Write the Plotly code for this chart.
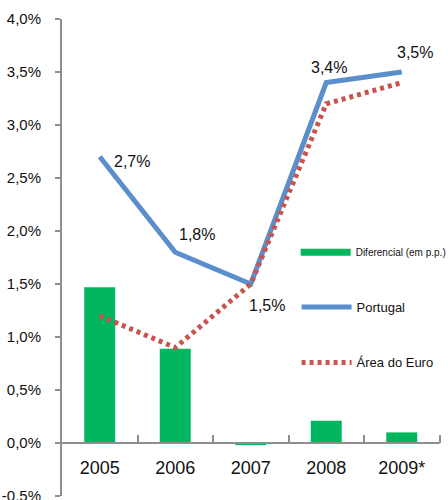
import plotly.graph_objects as go

# ---- data ----
years = ["2005", "2006", "2007", "2008", "2009*"]
diferencial = [1.47, 0.89, -0.02, 0.21, 0.10]
portugal = [2.7, 1.8, 1.5, 3.4, 3.5]
area_euro = [1.2, 0.9, 1.5, 3.2, 3.4]
y_ticks = [-0.5, 0.0, 0.5, 1.0, 1.5, 2.0, 2.5, 3.0, 3.5, 4.0]
y_range = [-0.5, 4.0]

# ---- styles ----
GREEN = "#00B65E"
BLUE = "#5B8FCB"
RED = "#C9544F"
GRAY = "#8E8E8E"
FONT = "Liberation Sans, Arial, sans-serif"
label_shift = [(32, -5), (22, 18), (16, -21), (3, 15), (13, 20)]
W, H = 448, 500
ML, MR, MT, MB = 62, 0, 19, 4
CAT_PX = 75.5  # width of one category slot in px


def pct(v):
    return f"{v:.1f}%".replace(".", ",")


n = len(years)
plot_w = W - ML - MR
x_max = -0.5 + plot_w / CAT_PX  # extra room on the right for the legend text

fig = go.Figure()

fig.add_trace(go.Bar(x=years, y=diferencial, marker=dict(color=GREEN, line=dict(width=0)),
                     width=0.41, showlegend=False, name="Diferencial (em p.p.)"))
fig.add_trace(go.Scatter(x=years, y=portugal, mode="lines", name="Portugal",
                         line=dict(color=BLUE, width=5), legend="legend2"))
fig.add_trace(go.Scatter(x=years, y=area_euro, mode="lines", name="Área do Euro",
                         line=dict(color=RED, width=5, dash="4px,4px"), legend="legend3"))
# legend entry for the bars (wide green bar symbol)
fig.add_trace(go.Scatter(x=[None], y=[None], mode="lines", name="Diferencial (em p.p.)",
                         line=dict(color=GREEN, width=7), legend="legend"))

for i, v in enumerate(portugal):
    dx, dy = label_shift[i]
    fig.add_annotation(x=i, y=v, text=pct(v), showarrow=False, xshift=dx, yshift=dy,
                       font=dict(family=FONT, size=16, color="#111"))

# category axis line at y = 0, spanning only the category slots
fig.add_shape(type="line", xref="x", yref="y", x0=-0.5, x1=n - 0.5, y0=0, y1=0,
              line=dict(color=GRAY, width=2), layer="above")

leg_common = dict(xanchor="left", yanchor="middle", xref="container", bgcolor="rgba(0,0,0,0)",
                  itemwidth=50, font=dict(family=FONT, size=13, color="#111"))

fig.update_layout(
    width=W, height=H,
    margin=dict(l=ML, r=MR, t=MT, b=MB, autoexpand=False),
    paper_bgcolor="white", plot_bgcolor="white",
    legend=dict(x=0.660, y=0.511, **{**leg_common, "font": dict(family=FONT, size=10, color="#111")}),
    legend2=dict(x=0.662, y=0.396, **leg_common),
    legend3=dict(x=0.662, y=0.280, **leg_common),
    xaxis=dict(type="category", categoryorder="array", categoryarray=years,
               range=[-0.5, x_max],
               anchor="free", position=(0 - y_range[0]) / (y_range[1] - y_range[0]),
               showline=False,
               ticks="inside", tickson="boundaries", ticklen=8, tickwidth=2, tickcolor=GRAY,
               ticklabelstandoff=12,
               tickfont=dict(family=FONT, size=18, color="#111"),
               showgrid=False, zeroline=False),
    yaxis=dict(range=y_range, tickvals=y_ticks, ticktext=[pct(t) for t in y_ticks],
               showline=True, linecolor=GRAY, linewidth=2,
               ticks="outside", ticklen=5, tickwidth=2, tickcolor=GRAY,
               ticklabelstandoff=11, ticklabeloverflow="allow",
               tickfont=dict(family=FONT, size=15, color="#111"),
               showgrid=False, zeroline=False),
)

fig.write_html("out.html", config={"displayModeBar": False},
               post_script="document.body.style.margin='0';document.body.style.overflow='hidden';")
